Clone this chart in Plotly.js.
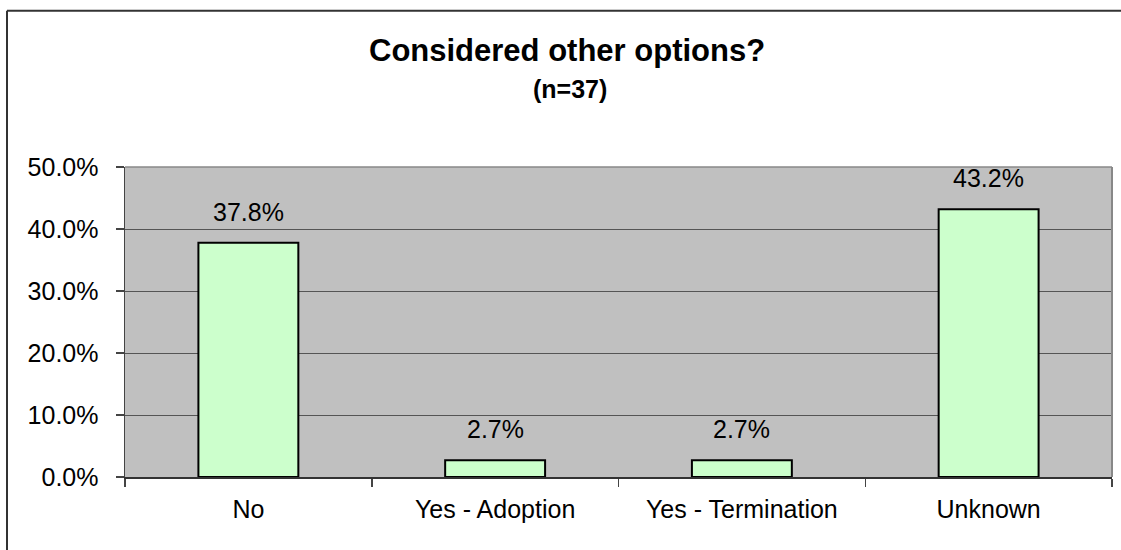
<!DOCTYPE html>
<html>
<head>
<meta charset="utf-8">
<script src="https://cdn.plot.ly/plotly-3.0.1.min.js"></script>
<style>html,body{margin:0;padding:0;background:#fff;overflow:hidden;}#chart{width:1121px;height:550px;}</style>
</head>
<body>
<div id="chart"></div>
<script>
const categories = ["No", "Yes - Adoption", "Yes - Termination", "Unknown"];
const values = [37.8, 2.7, 2.7, 43.2];
const valueLabels = ["37.8%", "2.7%", "2.7%", "43.2%"];
const tickValues = [0, 10, 20, 30, 40, 50];
const tickLabels = ["0.0%", "10.0%", "20.0%", "30.0%", "40.0%", "50.0%"];
const titleText = "Considered other options?";
const subtitleText = "(n=37)";

const FONT = "Arial, 'Liberation Sans', sans-serif";
const L = 125, R = 1112, T = 167, B = 476.7;
const W = 1121, H = 550;
const px2x = x => (x - L) / (R - L);
const px2y = y => (B - y) / (B - T);

const annotations = categories.map((c, i) => ({
  x: c, y: values[i], xref: 'x', yref: 'y',
  text: valueLabels[i], showarrow: false,
  yanchor: 'bottom', yshift: 15,
  font: {family: FONT, size: 25, color: '#000'}
}));
annotations.push({
  x: px2x(567), y: px2y(51), xref: 'paper', yref: 'paper',
  text: '<b>' + titleText + '</b>', showarrow: false,
  xanchor: 'center', yanchor: 'middle',
  font: {family: FONT, size: 31, color: '#000'}
});
annotations.push({
  x: px2x(570), y: px2y(89), xref: 'paper', yref: 'paper',
  text: '<b>' + subtitleText + '</b>', showarrow: false,
  xanchor: 'center', yanchor: 'middle',
  font: {family: FONT, size: 25, color: '#000'}
});

const data = [{
  type: 'bar',
  x: categories,
  y: values,
  marker: {color: '#ccffcc', line: {color: '#000', width: 2}},
  hoverinfo: 'skip'
}];

const layout = {
  width: W, height: H,
  margin: {l: L, r: W - R, t: T, b: H - B, pad: 0},
  paper_bgcolor: '#ffffff',
  plot_bgcolor: '#c0c0c0',
  showlegend: false,
  bargap: 0.595,
  font: {family: FONT, size: 25, color: '#000'},
  xaxis: {
    type: 'category',
    tickson: 'boundaries',
    ticks: 'outside', ticklen: 8, tickwidth: 1.5, tickcolor: '#444',
    showline: true, linecolor: '#333', linewidth: 2,
    showgrid: false, zeroline: false,
    tickfont: {family: FONT, size: 25, color: '#000'},
    ticklabelstandoff: 9,
    fixedrange: true
  },
  yaxis: {
    range: [0, 50],
    tickvals: tickValues, ticktext: tickLabels,
    ticks: 'outside', ticklen: 8, tickwidth: 1.5, tickcolor: '#444',
    showline: true, linecolor: '#444', linewidth: 1.5,
    showgrid: true, gridcolor: '#555', gridwidth: 1,
    zeroline: false,
    tickfont: {family: FONT, size: 25, color: '#000'},
    ticklabelstandoff: 12,
    fixedrange: true
  },
  annotations: annotations,
  shapes: [
    {type: 'line', xref: 'paper', yref: 'paper', x0: px2x(7), x1: px2x(7), y0: px2y(550), y1: px2y(11),
     line: {color: '#333', width: 2}},
    {type: 'line', xref: 'paper', yref: 'paper', x0: px2x(7), x1: px2x(1121), y0: px2y(11), y1: px2y(11),
     line: {color: '#333', width: 2}},
    {type: 'line', xref: 'paper', yref: 'paper', x0: 0, x1: 1, y0: 1, y1: 1,
     line: {color: '#888', width: 1.5}},
    {type: 'line', xref: 'paper', yref: 'paper', x0: 1, x1: 1, y0: 0, y1: 1,
     line: {color: '#888', width: 2}}
  ]
};

Plotly.newPlot('chart', data, layout, {displayModeBar: false, staticPlot: true});
</script>
</body>
</html>
